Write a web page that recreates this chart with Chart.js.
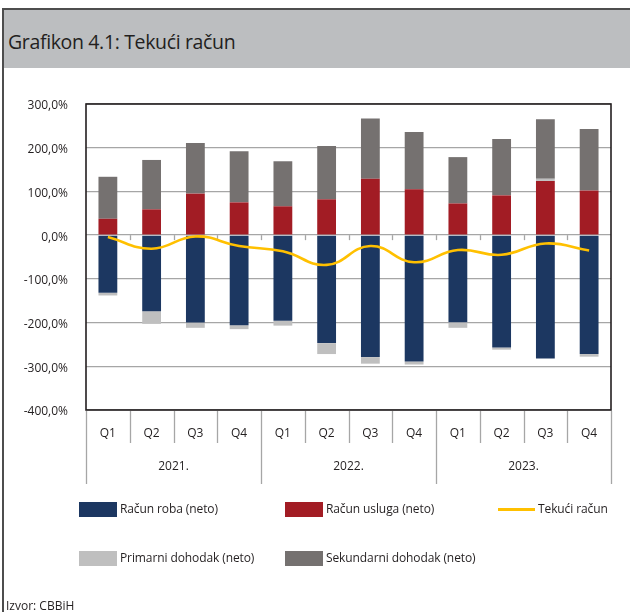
<!DOCTYPE html>
<html>
<head>
<meta charset="utf-8">
<script src="https://cdn.jsdelivr.net/npm/chart.js@4/dist/chart.umd.min.js"></script>
<style>
  html, body { margin: 0; padding: 0; background: #fff; }
  #wrap { position: relative; width: 630px; height: 612px; overflow: hidden; font-family: "Open Sans", sans-serif; color: #231f20; }
  #frameTop { position: absolute; left: 3px; top: 8px; width: 627px; height: 1.5px; background: #4d4d4d; }
  #frameLeft { position: absolute; left: 2px; top: 8px; width: 1.5px; height: 604px; background: #4d4d4d; }
  #header { position: absolute; left: 3.5px; top: 9.5px; width: 627px; height: 58px; background: #bcbec0; }
  #title { position: absolute; left: 8px; top: 28px; font-size: 19.5px; white-space: nowrap; letter-spacing: -0.35px; }
  #chart { position: absolute; left: 0; top: 0; }
  .lg { position: absolute; font-size: 12px; white-space: nowrap; letter-spacing: -0.1px; }
  .sw { position: absolute; width: 38px; height: 15px; }
  .ln { position: absolute; width: 37px; height: 3px; background: #ffc000; }
  #src { position: absolute; left: 6px; top: 597px; font-size: 12px; }
</style>
</head>
<body>
<div id="wrap">
  <div id="header"></div>
  <div id="frameTop"></div>
  <div id="frameLeft"></div>
  <div id="title">Grafikon 4.1: Tekući račun</div>
  <canvas id="chart" width="630" height="612"></canvas>
  <div id="legend"></div>
  <div id="src">Izvor: CBBiH</div>
</div>
<script>
const quarters = ['Q1','Q2','Q3','Q4','Q1','Q2','Q3','Q4','Q1','Q2','Q3','Q4'];
const years = ['2021.','2022.','2023.'];
const goods = [-132, -174, -200, -206, -196, -247, -279, -289, -199, -257, -282, -272];
const services = [37.5, 59, 95, 75, 66, 82, 129, 105, 72.5, 91, 124, 102];
const primary = [-6, -29, -12, -9, -11, -25, -15, -7, -13, -5, 5, -6];
const secondary = [96, 113, 116, 117, 103, 122, 138, 131, 106, 129, 136, 141];
const current = [-4.5, -31, -3, -25, -37, -68, -25, -62, -34, -45, -19, -35];

const seriesNames = ['Račun roba (neto)', 'Račun usluga (neto)', 'Primarni dohodak (neto)', 'Sekundarni dohodak (neto)', 'Tekući račun'];
const colors = ['#1c3761', '#a21c24', '#bfbfbf', '#757170', '#ffc000'];

const PLOT_LEFT = 86, PLOT_TOP = 104, PLOT_RIGHT = 611, PLOT_BOTTOM = 410;
const CW = 630, CH = 612;

const gridColor = '#a6a6a6';

const axisPlugin = {
  id: 'axisExtras',
  beforeDatasetsDraw(chart) {
    const { ctx, chartArea: a, scales } = chart;
    const y0 = scales.y.getPixelForValue(0);
    const n = quarters.length;
    const cw = (a.right - a.left) / n;
    ctx.save();
    ctx.strokeStyle = gridColor;
    ctx.lineWidth = 1.3;
    for (let i = 1; i < n; i++) {
      const x = Math.round(a.left + i * cw) + 0.5;
      ctx.beginPath();
      ctx.moveTo(x, y0);
      ctx.lineTo(x, y0 + 5);
      ctx.stroke();
    }
    ctx.restore();
  },
  afterDraw(chart) {
    const { ctx, chartArea: a, scales } = chart;
    const n = quarters.length;
    const cw = (a.right - a.left) / n;
    ctx.save();
    ctx.strokeStyle = '#231f20';
    ctx.lineWidth = 1.6;
    ctx.strokeRect(a.left, a.top, a.right - a.left, a.bottom - a.top);
    ctx.strokeStyle = gridColor;
    ctx.lineWidth = 1.3;
    for (let i = 0; i <= n; i++) {
      const x = Math.round(a.left + i * cw) + 0.5;
      const long = (i % 4 === 0);
      ctx.beginPath();
      ctx.moveTo(x, a.bottom + 1);
      ctx.lineTo(x, a.bottom + (long ? 74 : 33));
      ctx.stroke();
    }
    ctx.fillStyle = '#231f20';
    ctx.font = '12px "Open Sans", sans-serif';
    ctx.textAlign = 'center';
    ctx.textBaseline = 'middle';
    for (let i = 0; i < n; i++) {
      const x = scales.x.getPixelForValue(i);
      ctx.fillText(quarters[i], x, a.bottom + 24);
    }
    for (let j = 0; j < years.length; j++) {
      const x = (scales.x.getPixelForValue(j * 4) + scales.x.getPixelForValue(j * 4 + 3)) / 2;
      ctx.fillText(years[j], x, a.bottom + 57);
    }
    ctx.restore();
  }
};

const barCommon = { barPercentage: 0.43, categoryPercentage: 1.0, borderWidth: 0, order: 1, stack: 'bars' };

new Chart(document.getElementById('chart'), {
  type: 'bar',
  data: {
    labels: quarters.map((q, i) => q + ' ' + years[Math.floor(i / 4)]),
    datasets: [
      { ...barCommon, label: seriesNames[0], data: goods, backgroundColor: colors[0] },
      { ...barCommon, label: seriesNames[1], data: services, backgroundColor: colors[1] },
      { ...barCommon, label: seriesNames[2], data: primary, backgroundColor: colors[2] },
      { ...barCommon, label: seriesNames[3], data: secondary, backgroundColor: colors[3] },
      { type: 'line', label: seriesNames[4], data: current, borderColor: colors[4], backgroundColor: colors[4],
        borderWidth: 2.6, pointRadius: 0, tension: 0.45, order: 0, stack: 'line', fill: false }
    ]
  },
  options: {
    responsive: false,
    animation: false,
    events: [],
    layout: { padding: { top: PLOT_TOP, right: CW - PLOT_RIGHT, bottom: CH - PLOT_BOTTOM, left: 0 } },
    plugins: { legend: { display: false }, tooltip: { enabled: false } },
    scales: {
      x: { stacked: true, display: false },
      y: {
        stacked: true, min: -400, max: 300,
        afterFit(scale) { scale.width = PLOT_LEFT; },
        border: { display: false },
        grid: { color: gridColor, lineWidth: 1.3, drawTicks: false },
        ticks: {
          stepSize: 100, padding: 18, color: '#231f20', labelOffset: 2,
          font: { family: '"Open Sans", sans-serif', size: 12 },
          callback: v => v.toFixed(1).replace('.', ',') + '%'
        }
      }
    }
  },
  plugins: [axisPlugin]
});

const legendPos = [
  { x: 79, y: 509, kind: 'box', idx: 0 },
  { x: 285, y: 509, kind: 'box', idx: 1 },
  { x: 498, y: 509, kind: 'line', idx: 4 },
  { x: 79, y: 558, kind: 'box', idx: 2 },
  { x: 285, y: 558, kind: 'box', idx: 3 }
];
const lg = document.getElementById('legend');
legendPos.forEach(p => {
  const s = document.createElement('div');
  if (p.kind === 'box') {
    s.className = 'sw';
    s.style.left = p.x + 'px'; s.style.top = (p.y - 7.5) + 'px';
  } else {
    s.className = 'ln';
    s.style.left = p.x + 'px'; s.style.top = (p.y - 1.5) + 'px';
  }
  s.style.background = colors[p.idx];
  lg.appendChild(s);
  const t = document.createElement('div');
  t.className = 'lg';
  t.textContent = seriesNames[p.idx];
  t.style.left = (p.x + (p.kind === 'box' ? 41 : 40)) + 'px';
  t.style.top = (p.y - 9) + 'px';
  lg.appendChild(t);
});
</script>
</body>
</html>
